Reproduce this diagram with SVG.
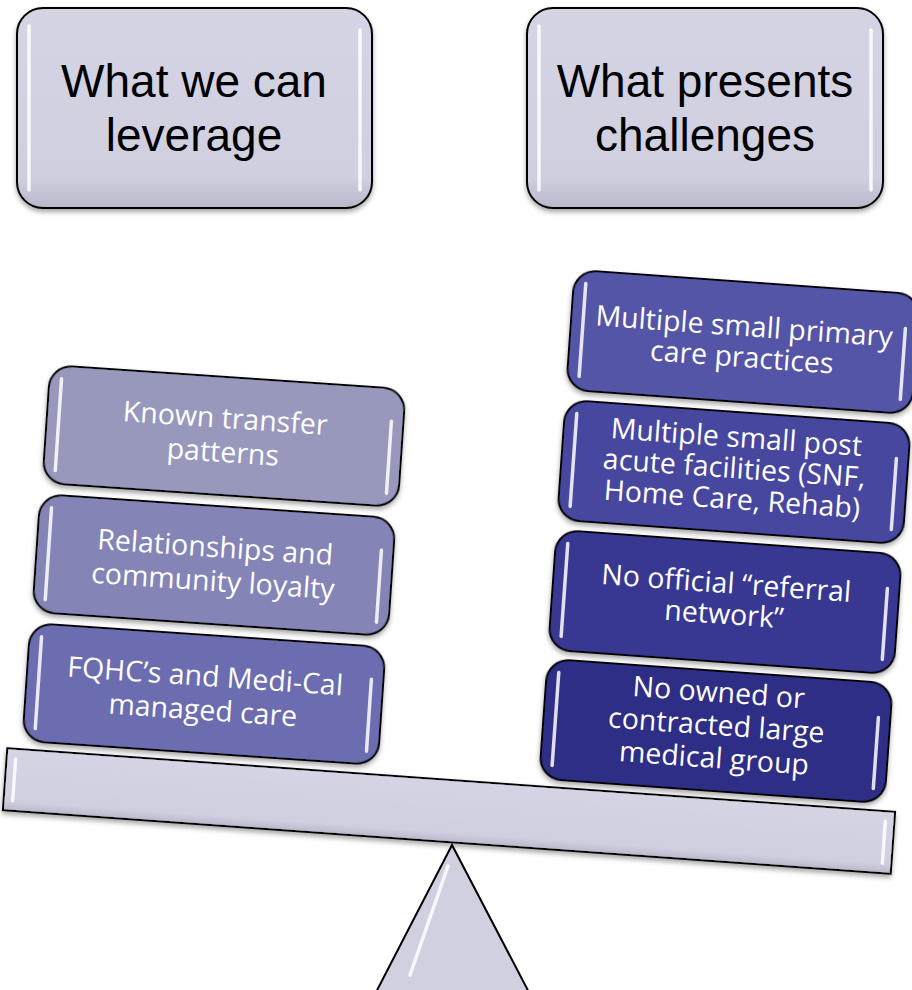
<svg xmlns="http://www.w3.org/2000/svg" width="912" height="990" viewBox="0 0 912 990">
<defs>
<linearGradient id="gLight" x1="0" y1="0" x2="0" y2="1">
<stop offset="0" stop-color="#d4d4e4"/><stop offset="0.85" stop-color="#cfcfe0"/><stop offset="1" stop-color="#b8b8cc"/>
</linearGradient>
<filter id="sh" x="-10%" y="-10%" width="120%" height="130%">
<feDropShadow dx="0" dy="3" stdDeviation="2.5" flood-color="#000" flood-opacity="0.35"/>
</filter>
</defs>
<style>
.box{stroke:#000;stroke-width:2}
.light{fill:url(#gLight)}
.hl{stroke:#fff;stroke-opacity:0.85;stroke-width:3.5;stroke-linecap:round;fill:none}
.hd{font-family:"Liberation Sans",Arial,sans-serif;font-size:46px;fill:#000;text-anchor:middle}
.t{font-family:"Open Sans","Liberation Sans",sans-serif;font-size:28.5px;fill:#fff;text-anchor:middle}
</style>

<g id="header-left">
<rect class="box light" x="17" y="8" width="355" height="200" rx="26" filter="url(#sh)"/>
<line class="hl" x1="29" y1="26" x2="29" y2="190"/>
<line class="hl" x1="360" y1="30" x2="360" y2="190"/>
<text class="hd"><tspan x="194" y="97">What we can</tspan><tspan x="194" y="150.5">leverage</tspan></text>
</g>

<g id="header-right">
<rect class="box light" x="527" y="8" width="356" height="200" rx="26" filter="url(#sh)"/>
<line class="hl" x1="539" y1="26" x2="539" y2="190"/>
<line class="hl" x1="871" y1="30" x2="871" y2="190"/>
<text class="hd"><tspan x="705" y="97">What presents</tspan><tspan x="705" y="150.5">challenges</tspan></text>
</g>

<g id="fulcrum">
<polygon points="452,845 372,1000 533,1000" fill="#d0d0e0" stroke="#000" stroke-width="2"/>
<line class="hl" x1="448" y1="866" x2="410" y2="975" stroke-width="3"/>
</g>

<g id="beam" transform="rotate(4.1 449 811)">
<rect class="box light" x="4" y="780" width="890" height="62" filter="url(#sh)"/>
<line class="hl" x1="13" y1="790" x2="13" y2="832" stroke-width="3"/>
<line class="hl" x1="885" y1="790" x2="885" y2="832" stroke-width="3"/>
</g>

<g id="left-3" transform="rotate(3.9 204 694)">
<rect class="box" x="26" y="635" width="356" height="118" rx="22" fill="#6c6cb0" filter="url(#sh)"/>
<line class="hl" x1="38" y1="648" x2="38" y2="740"/>
<line class="hl" x1="370" y1="668" x2="370" y2="740"/>
<text class="t"><tspan x="204" y="686">FQHC’s and Medi-Cal</tspan><tspan x="204" y="720">managed care</tspan></text>
</g>

<g id="left-2" transform="rotate(3.9 214 565)">
<rect class="box" x="36" y="506" width="356" height="118" rx="22" fill="#8484b6" filter="url(#sh)"/>
<line class="hl" x1="48" y1="519" x2="48" y2="611"/>
<line class="hl" x1="380" y1="539" x2="380" y2="611"/>
<text class="t"><tspan x="214" y="557">Relationships and</tspan><tspan x="214" y="591">community loyalty</tspan></text>
</g>

<g id="left-1" transform="rotate(3.9 224 436)">
<rect class="box" x="46" y="377" width="356" height="118" rx="22" fill="#9898bc" filter="url(#sh)"/>
<line class="hl" x1="58" y1="390" x2="58" y2="482"/>
<line class="hl" x1="390" y1="410" x2="390" y2="482"/>
<text class="t"><tspan x="224" y="428">Known transfer</tspan><tspan x="224" y="462">patterns</tspan></text>
</g>

<g id="right-4" transform="rotate(4.1 716 731)">
<rect class="box" x="543" y="671" width="346" height="120" rx="22" fill="#2e2e86" filter="url(#sh)"/>
<line class="hl" x1="555" y1="684" x2="555" y2="777"/>
<line class="hl" x1="877" y1="706" x2="877" y2="777"/>
<text class="t"><tspan x="716" y="702">No owned or</tspan><tspan x="716" y="735">contracted large</tspan><tspan x="716" y="768">medical group</tspan></text>
</g>

<g id="right-3" transform="rotate(4.1 725 602)">
<rect class="box" x="552" y="542" width="346" height="120" rx="22" fill="#383892" filter="url(#sh)"/>
<line class="hl" x1="564" y1="555" x2="564" y2="648"/>
<line class="hl" x1="886" y1="577" x2="886" y2="648"/>
<text class="t"><tspan x="725" y="593">No official “referral</tspan><tspan x="725" y="624">network”</tspan></text>
</g>

<g id="right-2" transform="rotate(4.1 734 472)">
<rect class="box" x="561" y="412" width="346" height="120" rx="22" fill="#46469f" filter="url(#sh)"/>
<line class="hl" x1="573" y1="425" x2="573" y2="518"/>
<line class="hl" x1="895" y1="447" x2="895" y2="518"/>
<text class="t"><tspan x="734" y="447">Multiple small post</tspan><tspan x="734" y="478">acute facilities (SNF,</tspan><tspan x="734" y="509">Home Care, Rehab)</tspan></text>
</g>

<g id="right-1" transform="rotate(4.1 743 342)">
<rect class="box" x="570" y="282" width="346" height="120" rx="22" fill="#5454a8" filter="url(#sh)"/>
<line class="hl" x1="582" y1="295" x2="582" y2="388"/>
<line class="hl" x1="904" y1="317" x2="904" y2="388"/>
<text class="t"><tspan x="743" y="336">Multiple small primary</tspan><tspan x="743" y="367">care practices</tspan></text>
</g>
</svg>
